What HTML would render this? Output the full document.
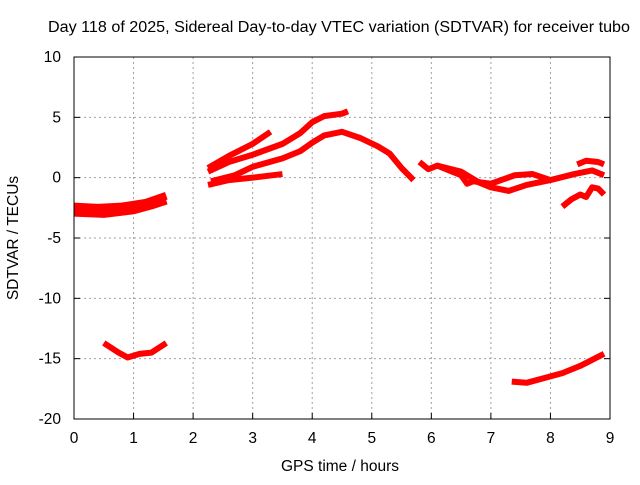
<!DOCTYPE html>
<html><head><meta charset="utf-8"><style>
body{margin:0;background:#fff}
svg text{font-family:"Liberation Sans",sans-serif;font-size:15.5px;fill:#000}
</style></head><body>
<svg id="c" width="640" height="480">
<text x="339" y="32" text-anchor="middle" textLength="582" lengthAdjust="spacingAndGlyphs">Day 118 of 2025, Sidereal Day-to-day VTEC variation (SDTVAR) for receiver tubo</text>
<text x="340" y="471" text-anchor="middle">GPS time / hours</text>
<text transform="translate(18,238) rotate(-90)" text-anchor="middle">SDTVAR / TECUs</text>
<g id="grid"></g><g id="marks"></g>
<rect x="74" y="57" width="536" height="362" fill="none" stroke="#000" stroke-width="1"/>
</svg>
<script>
const xTicks=[0,1,2,3,4,5,6,7,8,9];
const yTicks=[10,5,0,-5,-10,-15,-20];
const seriesA1=[[0,-2.4],[0.4,-2.5],[0.8,-2.4],[1.2,-2.1],[1.55,-1.5]];
const seriesA2=[[0,-2.9],[0.5,-3.0],[1.0,-2.7],[1.3,-2.3],[1.55,-1.9]];
const seriesB=[[0.5,-13.7],[0.75,-14.5],[0.9,-14.9],[1.1,-14.6],[1.3,-14.5],[1.55,-13.7]];
const seriesC1=[[2.25,0.8],[2.6,1.8],[3.0,2.8],[3.3,3.8]];
const seriesC2=[[2.25,0.5],[2.6,1.3],[3.0,1.9],[3.5,2.8],[3.8,3.7],[4.0,4.6],[4.2,5.1],[4.5,5.3],[4.6,5.5]];
const seriesC3=[[2.3,-0.3],[2.7,0.2],[3.0,0.9],[3.5,1.6],[3.8,2.2],[4.0,2.9],[4.2,3.5],[4.5,3.8],[4.8,3.3],[5.1,2.6],[5.3,2.0],[5.5,0.8],[5.7,-0.2]];
const seriesC4=[[2.25,-0.6],[2.6,-0.2],[3.0,0.0],[3.5,0.3]];
const seriesD1=[[5.8,1.3],[5.95,0.7],[6.1,1.0],[6.3,0.6],[6.5,0.2],[6.6,-0.5],[6.7,-0.3],[7.0,-0.5],[7.4,0.2],[7.7,0.3],[8.0,-0.2],[8.4,0.3],[8.7,0.6],[8.9,0.2]];
const seriesD2=[[6.1,1.0],[6.5,0.5],[6.8,-0.4],[7.0,-0.8],[7.3,-1.1],[7.6,-0.6],[8.0,-0.2]];
const seriesD3=[[8.45,1.1],[8.6,1.4],[8.8,1.3],[8.9,1.1]];
const seriesE=[[8.2,-2.4],[8.35,-1.8],[8.5,-1.4],[8.6,-1.6],[8.7,-0.8],[8.8,-0.9],[8.9,-1.4]];
const seriesF=[[7.35,-16.9],[7.6,-17.0],[7.9,-16.6],[8.2,-16.2],[8.5,-15.6],[8.9,-14.6]];
const allSeries=[seriesA1,seriesA2,seriesB,seriesC1,seriesC2,seriesC3,seriesC4,seriesD1,seriesD2,seriesD3,seriesE,seriesF];
const NS="http://www.w3.org/2000/svg";
function X(v){return 74+v*(536/9);}
function Y(v){return 57+(10-v)*(362/30);}
const grid=document.getElementById('grid'),marks=document.getElementById('marks');
function mk(tag,attrs,parent){const e=document.createElementNS(NS,tag);for(const k in attrs)e.setAttribute(k,attrs[k]);parent.appendChild(e);return e;}
xTicks.forEach(t=>{
 const l=mk('line',{x1:X(t),x2:X(t),y1:57,y2:419,stroke:'#a0a0a0','stroke-dasharray':'2,3'},grid);
 
 
 mk('line',{x1:X(t),x2:X(t),y1:419,y2:413,stroke:'#000'},grid);
 const tx=mk('text',{x:X(t),y:443,'text-anchor':'middle'},grid);tx.textContent=t;
 
 
});
yTicks.forEach(t=>{
 const l=mk('line',{x1:74,x2:610,y1:Y(t),y2:Y(t),stroke:'#a0a0a0','stroke-dasharray':'2,3'},grid);
 
 
 mk('line',{x1:74,x2:80,y1:Y(t),y2:Y(t),stroke:'#000'},grid);
 mk('line',{x1:604,x2:610,y1:Y(t),y2:Y(t),stroke:'#000'},grid);
 const tx=mk('text',{x:61,y:Y(t)+5,'text-anchor':'end'},grid);tx.textContent=t;
 
 
});
allSeries.forEach((s,i)=>{
 const p=mk('polyline',{points:s.map(d=>X(d[0])+','+Y(d[1])).join(' '),fill:'none',stroke:'#ff0000','stroke-width':(i<2?8:6),'stroke-linejoin':'round'},marks);
 
 
});
</script>
</body></html>
